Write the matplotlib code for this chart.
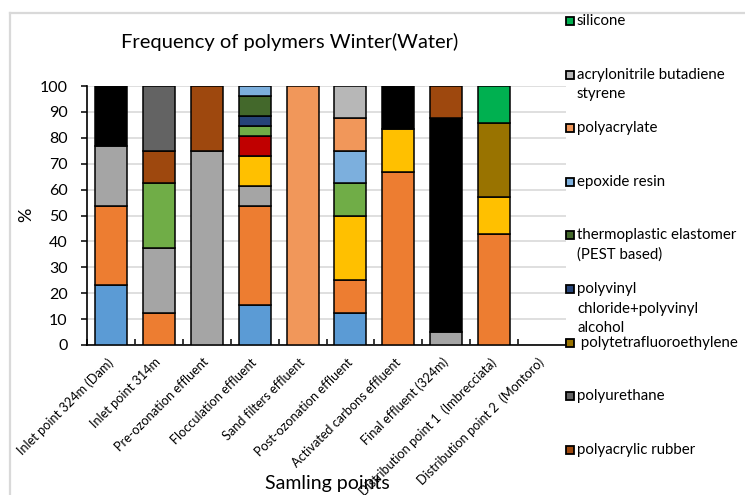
import matplotlib
matplotlib.use("Agg")
import matplotlib.pyplot as plt
from matplotlib.patches import Rectangle
from matplotlib.lines import Line2D
import numpy as np

plt.rcParams['font.family'] = ['Lato', 'DejaVu Sans']

categories = [
    "Inlet point 324m (Dam)",
    "Inlet point 314m",
    "Pre-ozonation effluent",
    "Flocculation effluent",
    "Sand filters effluent",
    "Post-ozonation effluent",
    "Activated carbons effluent",
    "Final effluent (324m)",
    "Distribution point 1  (Imbrecciata)",
    "Distribution point 2  (Montoro)",
]

# Share (%) of each polymer class per sampling point, in stacking order
series_1 = [23.08, 0, 0, 15.38, 0, 12.5, 0, 0, 0, 0]
series_2 = [30.77, 12.5, 0, 38.46, 0, 12.5, 66.67, 0, 42.86, 0]
series_3 = [23.08, 25, 75, 7.69, 0, 0, 0, 5, 0, 0]
series_4 = [0, 0, 0, 11.54, 0, 25, 16.67, 0, 14.29, 0]
series_5 = [0, 0, 0, 7.69, 0, 0, 0, 0, 0, 0]
series_6 = [0, 25, 0, 3.85, 0, 12.5, 0, 0, 0, 0]
series_7 = [23.08, 0, 0, 0, 0, 0, 16.67, 82.5, 0, 0]
polyacrylic_rubber = [0, 12.5, 25, 0, 0, 0, 0, 12.5, 0, 0]
polyurethane = [0, 25, 0, 0, 0, 0, 0, 0, 0, 0]
polytetrafluoroethylene = [0, 0, 0, 0, 0, 0, 0, 0, 28.57, 0]
pvc_pva = [0, 0, 0, 3.85, 0, 0, 0, 0, 0, 0]
thermoplastic_elastomer = [0, 0, 0, 7.69, 0, 0, 0, 0, 0, 0]
epoxide_resin = [0, 0, 0, 3.85, 0, 12.5, 0, 0, 0, 0]
polyacrylate = [0, 0, 0, 0, 100, 12.5, 0, 0, 0, 0]
abs_resin = [0, 0, 0, 0, 0, 12.5, 0, 0, 0, 0]
silicone = [0, 0, 0, 0, 0, 0, 0, 0, 14.29, 0]

series = [series_1, series_2, series_3, series_4, series_5, series_6, series_7,
          polyacrylic_rubber, polyurethane, polytetrafluoroethylene, pvc_pva,
          thermoplastic_elastomer, epoxide_resin, polyacrylate, abs_resin, silicone]
colors = ["#5B9BD5", "#ED7D31", "#A5A5A5", "#FFC000", "#C00000", "#70AD47",
          "#000000", "#9E480E", "#636363", "#997300", "#264478", "#43682B",
          "#7CAFDD", "#F1975A", "#B7B7B7", "#00B050"]

# Legend entries (top to bottom) with the series index they describe
legend_entries = [
    (15, ["silicone"]),
    (14, ["acrylonitrile butadiene", "styrene"]),
    (13, ["polyacrylate"]),
    (12, ["epoxide resin"]),
    (11, ["thermoplastic elastomer", "(PEST based)"]),
    (10, ["polyvinyl", "chloride+polyvinyl", "alcohol"]),
    (9, [" polytetrafluoroethylene"]),
    (8, ["polyurethane"]),
    (7, ["polyacrylic rubber"]),
]

W, H = 745, 495
fig = plt.figure(figsize=(W / 100, H / 100), dpi=100)


def fx(px):
    return px / W


def fy(py):
    return 1 - py / H


# outer chart frame (top and left edges visible)
fig.add_artist(Line2D([fx(10), fx(10)], [fy(13), fy(H + 5)], color="#D9D9D9", lw=1.6,
                      transform=fig.transFigure))
fig.add_artist(Line2D([fx(10), fx(W + 5)], [fy(13), fy(13)], color="#D9D9D9", lw=1.6,
                      transform=fig.transFigure))

ax = fig.add_axes([fx(87), fy(345), fx(566) - fx(87), fy(86) - fy(345)])

x = np.arange(len(categories))
bottom = np.zeros(len(categories))
for vals, col in zip(series, colors):
    v = np.array(vals, dtype=float)
    mask = v > 0
    ax.bar(x[mask], v[mask], width=0.67, bottom=bottom[mask], color=col,
           edgecolor="black", linewidth=1.1, zorder=3)
    bottom += v

ax.set_xlim(-0.5, len(categories) - 0.5)
ax.set_ylim(0, 100)
ax.set_yticks(np.arange(0, 101, 10))
ax.yaxis.grid(True, color="#D9D9D9", linewidth=1.2, zorder=0)
ax.set_axisbelow(True)

for s in ["top", "right"]:
    ax.spines[s].set_visible(False)
ax.spines["left"].set_linewidth(1.2)
ax.spines["bottom"].set_linewidth(1.2)

ax.tick_params(axis="y", direction="out", length=4, width=1.1, pad=10,
               labelsize=11.5)
ax.set_xticks(x)
ax.set_xticklabels(categories, rotation=45, ha="right", va="center",
                   rotation_mode="anchor", fontsize=9.2)
ax.tick_params(axis="x", length=0, pad=11)
ax.set_xticks(np.arange(-0.5, len(categories), 1), minor=True)
ax.tick_params(axis="x", which="minor", direction="in", length=4, width=1.1)

fig.text(fx(290), fy(42), "Frequency of polymers Winter(Water)", ha="center",
         va="center", fontsize=14.5)
fig.text(fx(26), fy(215), "%", ha="center", va="center", rotation=90, fontsize=13)
fig.text(fx(327), fy(483), "Samling points", ha="center", va="center", fontsize=14)

# legend drawn as a column of swatches on the right
row_y0, row_step, line_step = 21, 53.6, 19.5
for i, (idx, lines) in enumerate(legend_entries):
    yc = row_y0 + i * row_step
    fig.add_artist(Rectangle((fx(565.5), fy(yc + 4)), fx(8) - fx(0), fy(0) - fy(8),
                             facecolor=colors[idx], edgecolor="black", lw=1.3,
                             transform=fig.transFigure))
    for j, line in enumerate(lines):
        fig.text(fx(577), fy(yc + j * line_step), line, ha="left", va="center",
                 fontsize=10.8)

fig.savefig("out.png", dpi=100)
